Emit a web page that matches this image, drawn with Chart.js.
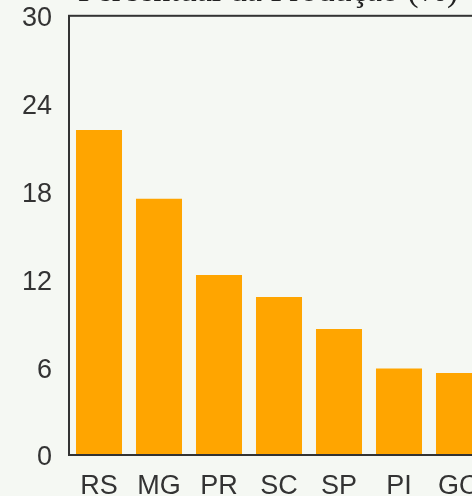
<!DOCTYPE html>
<html>
<head>
<meta charset="utf-8">
<script src="https://cdn.jsdelivr.net/npm/chart.js@4/dist/chart.umd.min.js"></script>
<style>
  html, body { margin: 0; padding: 0; background: #f5f8f3; overflow: hidden; width: 472px; height: 496px; }
  #wrap { position: absolute; left: 0; top: -38px; }
</style>
</head>
<body>
<div id="wrap"><canvas id="c" width="536" height="538"></canvas></div>
<script>
const titleText = 'Percentual da Produção (%)';
const categories = ['RS', 'MG', 'PR', 'SC', 'SP', 'PI', 'GO'];
const values = [22.2, 17.5, 12.3, 10.8, 8.6, 5.9, 5.6];
const yTicks = [0, 6, 12, 18, 24, 30];

const frame = {
  id: 'frame',
  beforeDraw(chart) {
    const ctx = chart.ctx;
    ctx.save();
    ctx.fillStyle = '#f5f8f3';
    ctx.fillRect(0, 0, chart.width, chart.height);
    ctx.restore();
  },
  afterDraw(chart) {
    const a = chart.chartArea, ctx = chart.ctx;
    ctx.save();
    ctx.strokeStyle = '#333';
    ctx.lineWidth = 2;
    ctx.strokeRect(a.left, a.top, a.right - a.left, a.bottom - a.top);
    ctx.restore();
  }
};

new Chart(document.getElementById('c'), {
  type: 'bar',
  data: {
    labels: categories,
    datasets: [{
      data: values,
      backgroundColor: '#FFA500',
      borderWidth: 0,
      barPercentage: 0.767,
      categoryPercentage: 1
    }]
  },
  options: {
    responsive: false,
    animation: false,
    layout: { padding: 0 },
    plugins: {
      legend: { display: false },
      tooltip: { enabled: false },
      title: {
        display: true,
        text: titleText,
        color: '#222',
        font: { family: 'Liberation Serif', size: 34, weight: 'normal' },
        padding: { top: 10, bottom: 3 }
      }
    },
    scales: {
      x: {
        grid: { display: false, drawTicks: false },
        border: { display: true, color: '#333', width: 2 },
        ticks: { color: '#333', font: { family: 'Liberation Sans', size: 27 }, padding: 15 },
        afterFit(s) { s.height = 45; }
      },
      y: {
        min: 0, max: 30,
        afterBuildTicks(s) { s.ticks = yTicks.map(v => ({ value: v })); },
        grid: { display: false, drawTicks: false },
        border: { display: true, color: '#333', width: 2 },
        ticks: { color: '#333', font: { family: 'Liberation Sans', size: 27 }, padding: 17, labelOffset: 3 },
        afterFit(s) { s.width = 69; }
      },
      y2: {
        type: 'linear',
        position: 'right',
        display: true,
        grid: { display: false, drawTicks: false },
        border: { display: false },
        ticks: { display: false },
        afterFit(s) { s.width = 47; }
      }
    }
  },
  plugins: [frame]
});
</script>
</body>
</html>
